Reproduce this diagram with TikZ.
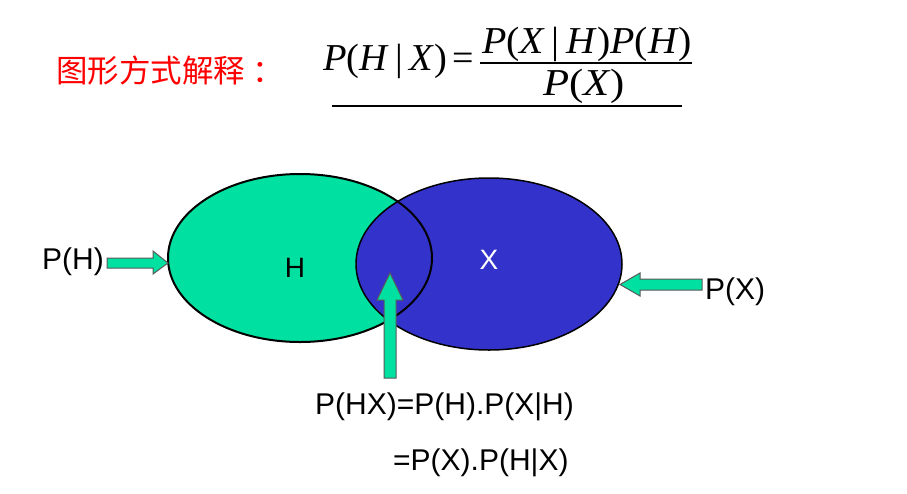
\documentclass[tikz,border=0pt]{standalone}
\usepackage{fontspec}
\setmainfont{Liberation Sans}
\newfontfamily\cjk{Noto Sans CJK SC}
\newfontfamily\tms{Liberation Serif}
\newcommand\iv[1]{{\itshape #1\/}}
\newcommand\gbar{\,|\,}
\definecolor{hgreen}{RGB}{0,224,160}
\definecolor{xblue}{RGB}{51,51,204}
\definecolor{tred}{RGB}{255,0,0}
\begin{document}
\begin{tikzpicture}[x=1pt,y=-1pt,
  lbl/.style={inner sep=0pt,font=\fontsize{30}{30}\selectfont},
  fml/.style={inner sep=0pt,font=\tms\fontsize{38}{38}\selectfont},
  blockarrow/.style={fill=hgreen,draw=black!65,line width=1pt,line join=miter}]
\useasboundingbox (0,0) rectangle (907,493);
\fill[white] (0,0) rectangle (907,493);
% title
\node[inner sep=0pt,anchor=west,text=tred,font=\cjk\fontsize{31.5}{32}\selectfont] (title) at (56,71) {图形方式解释\hspace{7pt}：};
% formula
\node[fml,anchor=base west] (lhs) at (323,70) {\resizebox{124pt}{\height}{\iv{P}(\iv{H}\gbar\iv{X})}};
\node[fml,anchor=base west] (eq) at (452,70) {=};
\node[fml,anchor=base] (num) at (587,53) {\resizebox{210pt}{\height}{\iv{P}(\iv{X}\gbar\iv{H})\iv{P}(\iv{H})}};
\node[fml,anchor=base] (den) at (584,95) {\resizebox{82pt}{\height}{\iv{P}(\iv{X})}};
\draw[line width=1.5pt] (480,63) -- (692,63);
\draw[line width=2pt] (332,106) -- (682,106);
% ellipses
\fill[hgreen] (300,258) ellipse [x radius=132, y radius=84];
\fill[xblue] (489,264) ellipse [x radius=133, y radius=86];
\draw[line width=2pt] (300,258) ellipse [x radius=132, y radius=84];
\draw[line width=1.5pt] (489,264) ellipse [x radius=133, y radius=86];
\node[lbl,font=\fontsize{28}{28}\selectfont] (H) at (295,268) {H};
\node[lbl,font=\fontsize{28}{28}\selectfont,text=white] (X) at (489,260) {X};
% arrows
\draw[blockarrow] (107,258) -- (153,258) -- (153,251) -- (168,263) -- (153,274) -- (153,268) -- (107,268) -- cycle;
\draw[blockarrow] (702,279) -- (640,279) -- (640,273) -- (620,284.5) -- (640,296) -- (640,290) -- (702,290) -- cycle;
\draw[blockarrow] (384,378) -- (384,300) -- (377,300) -- (390,273) -- (403,300) -- (396,300) -- (396,378) -- cycle;
% labels
\node[lbl,anchor=east] (PH) at (104,262) {P(H)};
\node[lbl,anchor=west] (PX) at (705,292) {P(X)};
\node[lbl,anchor=west] (l1) at (315,407) {P(HX)=P(H).P(X|H)};
\node[lbl,anchor=west] (l2) at (393,463) {=P(X).P(H|X)};
\end{tikzpicture}
\end{document}
